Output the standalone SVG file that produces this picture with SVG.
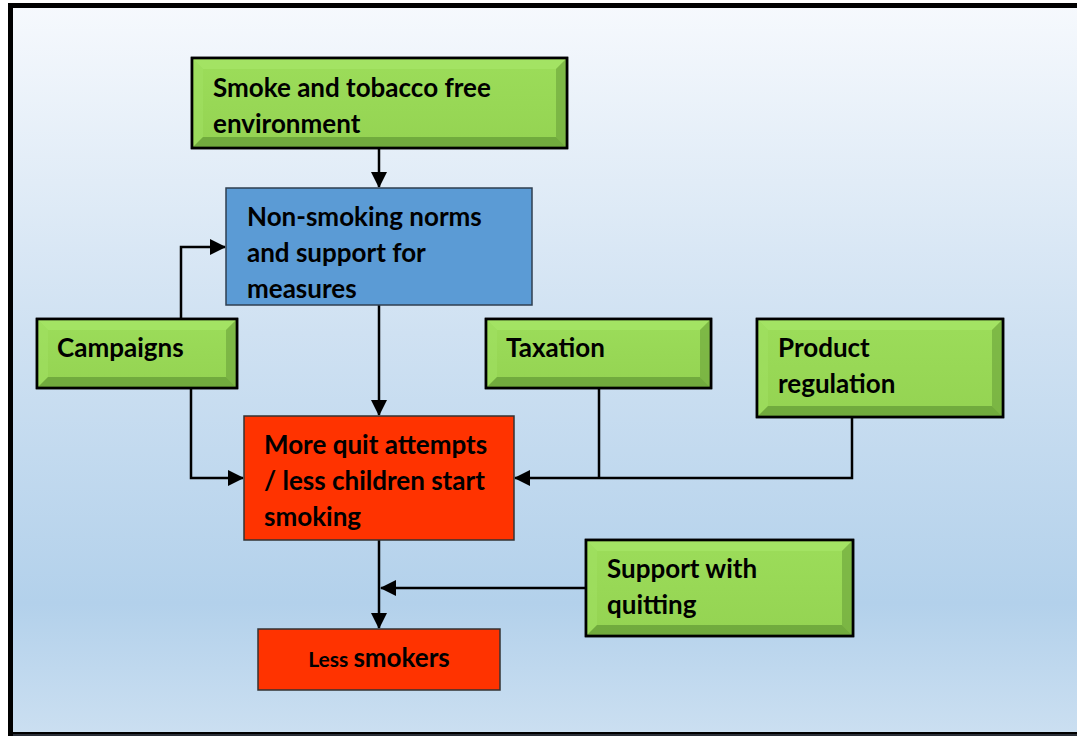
<svg xmlns="http://www.w3.org/2000/svg" width="1077" height="736" viewBox="0 0 1077 736">
<defs>
<linearGradient id="bg" x1="0" y1="0" x2="0" y2="1">
<stop offset="0" stop-color="#f6f9fd"/>
<stop offset="0.45" stop-color="#cfe1f2"/>
<stop offset="0.82" stop-color="#b3d1eb"/>
<stop offset="1" stop-color="#cbdff1"/>
</linearGradient>
<linearGradient id="gr" x1="0" y1="0" x2="0" y2="1">
<stop offset="0" stop-color="#9cdd5a"/>
<stop offset="1" stop-color="#94d352"/>
</linearGradient>
<marker id="ah" viewBox="0 0 16 16" refX="15" refY="8" markerWidth="16" markerHeight="16" markerUnits="userSpaceOnUse" orient="auto">
<path d="M0,0 L16,8 L0,16 z" fill="#000"/>
</marker>
<style>
.t{font-family:Lato,"Open Sans","Liberation Sans",sans-serif;font-weight:bold;font-size:26px;fill:#000}
.g{fill:url(#gr);stroke:#000;stroke-width:2.5}
.bl{fill:#5b9bd5;stroke:#2f3f50;stroke-width:1.5}
.rd{fill:#ff3300;stroke:#333;stroke-width:1.5}
.hl{fill:#a8e86a;opacity:0.6}
.hl2{fill:#a2e264;opacity:0.5}
.dk{fill:#5a9030;opacity:0.6}
.dk2{fill:#6aa23a;opacity:0.6}
.c{fill:none;stroke:#000;stroke-width:2.5}
</style>
</defs>
<rect x="0" y="0" width="1077" height="736" fill="#fff"/>
<rect x="10.5" y="5.5" width="1080" height="729" fill="url(#bg)" stroke="#000" stroke-width="5"/>
<line x1="13" y1="735" x2="1077" y2="735" stroke="#2a2f38" stroke-width="2"/>

<g id="connectors">
<path class="c" d="M379,148 V187" marker-end="url(#ah)"/>
<path class="c" d="M181,319 V247 H225" marker-end="url(#ah)"/>
<path class="c" d="M379,305 V415" marker-end="url(#ah)"/>
<path class="c" d="M191,388 V478 H243" marker-end="url(#ah)"/>
<path class="c" d="M599,388 V478"/>
<path class="c" d="M852,417 V478 H515" marker-end="url(#ah)"/>
<path class="c" d="M379,540 V628" marker-end="url(#ah)"/>
<path class="c" d="M586,588 H381" marker-end="url(#ah)"/>
</g>

<g id="n-smoke">
<rect class="g" x="192" y="58" width="375" height="90"/>
<polygon class="hl" points="193,59 566,59 556,69 203,69"/>
<polygon class="hl2" points="193,59 203,69 203,137 193,147"/>
<polygon class="dk2" points="566,59 566,147 556,137 556,69"/>
<polygon class="dk" points="193,147 566,147 556,137 203,137"/>
<rect x="192" y="58" width="375" height="90" fill="none" stroke="#000" stroke-width="2.5"/>
<text class="t" x="213" y="97">Smoke and tobacco free</text>
<text class="t" x="213" y="133">environment</text>
</g>

<g id="n-norms">
<rect class="bl" x="226" y="188" width="306" height="117"/>
<text class="t" x="247" y="226">Non-smoking norms</text>
<text class="t" x="247" y="262">and support for</text>
<text class="t" x="247" y="298">measures</text>
</g>

<g id="n-campaigns">
<rect class="g" x="37" y="319" width="200" height="69"/>
<polygon class="hl" points="38,320 236,320 226,330 48,330"/>
<polygon class="hl2" points="38,320 48,330 48,377 38,387"/>
<polygon class="dk2" points="236,320 236,387 226,377 226,330"/>
<polygon class="dk" points="38,387 236,387 226,377 48,377"/>
<rect x="37" y="319" width="200" height="69" fill="none" stroke="#000" stroke-width="2.5"/>
<text class="t" x="57" y="357">Campaigns</text>
</g>

<g id="n-taxation">
<rect class="g" x="486" y="319" width="225" height="69"/>
<polygon class="hl" points="487,320 710,320 700,330 497,330"/>
<polygon class="hl2" points="487,320 497,330 497,377 487,387"/>
<polygon class="dk2" points="710,320 710,387 700,377 700,330"/>
<polygon class="dk" points="487,387 710,387 700,377 497,377"/>
<rect x="486" y="319" width="225" height="69" fill="none" stroke="#000" stroke-width="2.5"/>
<text class="t" x="506" y="357">Taxation</text>
</g>

<g id="n-product">
<rect class="g" x="757" y="319" width="246" height="98"/>
<polygon class="hl" points="758,320 1002,320 992,330 768,330"/>
<polygon class="hl2" points="758,320 768,330 768,406 758,416"/>
<polygon class="dk2" points="1002,320 1002,416 992,406 992,330"/>
<polygon class="dk" points="758,416 1002,416 992,406 768,406"/>
<rect x="757" y="319" width="246" height="98" fill="none" stroke="#000" stroke-width="2.5"/>
<text class="t" x="778" y="357">Product</text>
<text class="t" x="778" y="393">regulation</text>
</g>

<g id="n-quit">
<rect class="rd" x="244" y="416" width="270" height="124"/>
<text class="t" x="264" y="454">More quit attempts</text>
<text class="t" x="264" y="490">/ less children start</text>
<text class="t" x="264" y="526">smoking</text>
</g>

<g id="n-support">
<rect class="g" x="586" y="540" width="267" height="96"/>
<polygon class="hl" points="587,541 852,541 842,551 597,551"/>
<polygon class="hl2" points="587,541 597,551 597,625 587,635"/>
<polygon class="dk2" points="852,541 852,635 842,625 842,551"/>
<polygon class="dk" points="587,635 852,635 842,625 597,625"/>
<rect x="586" y="540" width="267" height="96" fill="none" stroke="#000" stroke-width="2.5"/>
<text class="t" x="607" y="578">Support with</text>
<text class="t" x="607" y="614">quitting</text>
</g>

<g id="n-less">
<rect class="rd" x="258" y="629" width="242" height="61"/>
<text class="t" x="379" y="667" text-anchor="middle"><tspan font-size="21">Less </tspan>smokers</text>
</g>
</svg>
